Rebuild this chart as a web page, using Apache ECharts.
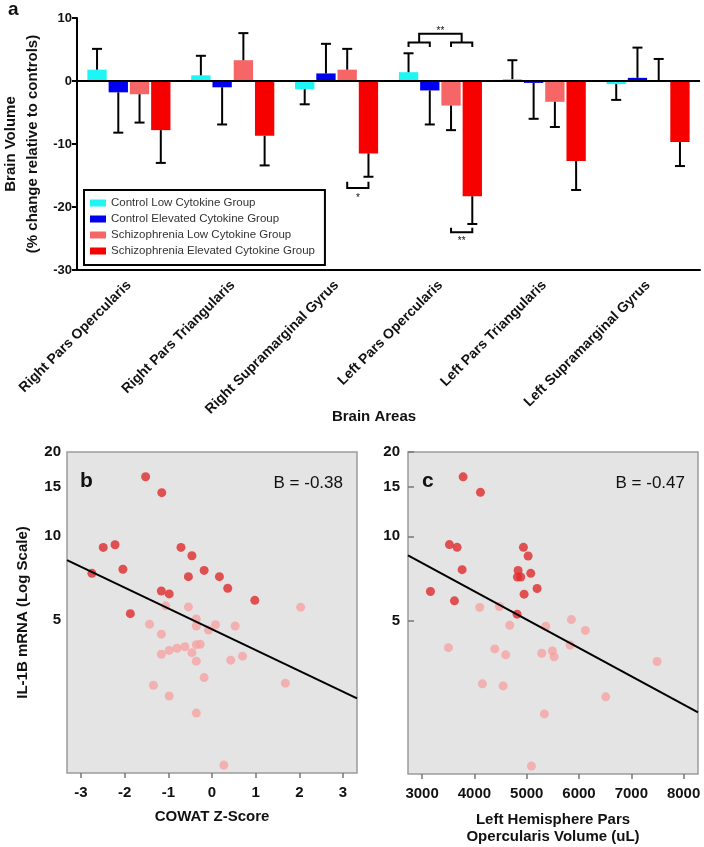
<!DOCTYPE html>
<html><head><meta charset="utf-8">
<script src="https://cdn.jsdelivr.net/npm/echarts@6/dist/echarts.min.js"></script>
<style>html,body{margin:0;padding:0;background:#fff}#c{width:704px;height:847px}</style>
</head><body><div id="c"></div>
<script>
const FONT = '"Liberation Sans", Arial, Helvetica, sans-serif';

// ---- Panel a ----
const brainAreas = ['Right Pars Opercularis','Right Pars Triangularis','Right Supramarginal Gyrus','Left Pars Opercularis','Left Pars Triangularis','Left Supramarginal Gyrus'];
const groupNames = ['Control Low Cytokine Group','Control Elevated Cytokine Group','Schizophrenia Low Cytokine Group','Schizophrenia Elevated Cytokine Group'];
const groupColors = ['#1ff5f5','#0000f0','#f76666','#f70000'];
const controlLow = [1.8, 0.9, -1.3, 1.4, 0.3, -0.5];
const controlLowErr = [3.3, 3.1, 2.4, 3.0, 3.0, 2.5];
const controlElevated = [-1.8, -1.0, 1.2, -1.5, -0.3, 0.5];
const controlElevatedErr = [6.4, 5.9, 4.7, 5.4, 5.7, 4.8];
const schizLow = [-2.1, 3.3, 1.8, -3.9, -3.3, 0.1];
const schizLowErr = [4.5, 4.3, 3.3, 3.9, 4.0, 3.4];
const schizElevated = [-7.8, -8.7, -11.5, -18.3, -12.7, -9.7];
const schizElevatedErr = [5.2, 4.7, 3.7, 4.4, 4.6, 3.8];
// significance brackets: [category, from bar, to bar, bracket value, leg end value, star value, stars]
const significance = [
  [2, 2, 3, -17.0, -16.0, -18.1, '*'],
  [3, 2, 3, -24.0, -23.3, -24.9, '**'],
  [3, 0, 1, 6.1, 5.4, null, ''],
  [3, 2, 3, 6.1, 5.4, null, ''],
  [3, 0.5, 2.5, 7.5, 6.2, 8.3, '**']
];

// ---- Panel b ----
const cowatTicks = [-3, -2, -1, 0, 1, 2, 3];
const il1bTicks = [5, 10, 15, 20];
const bElevated = [[-1.52,16.3],[-1.15,14.3],[-2.49,9.1],[-2.22,9.3],[-0.71,9.1],[-0.46,8.5],[-2.04,7.6],[-2.75,7.35],[-0.18,7.53],[-0.54,7.15],[0.17,7.15],[0.36,6.5],[-1.16,6.35],[-0.98,6.2],[0.98,5.88],[-1.87,5.27]];
const bLow = [[-1.06,5.62],[-0.54,5.57],[2.03,5.56],[-1.43,4.83],[-0.36,5.04],[-0.36,4.76],[0.08,4.81],[0.53,4.76],[-0.08,4.60],[-1.16,4.45],[-0.36,4.08],[-0.27,4.09],[-0.62,4.01],[-0.80,3.96],[-0.98,3.89],[-1.16,3.77],[-0.46,3.82],[-0.36,3.56],[0.70,3.71],[0.43,3.59],[-0.18,3.11],[-1.34,2.92],[1.68,2.97],[-0.98,2.67],[-0.36,2.32],[0.27,1.51]];
const bFit = [[-3.32, 8.2],[3.32, 2.62]];

// ---- Panel c ----
const volumeTicks = [3000, 4000, 5000, 6000, 7000, 8000];
const cElevated = [[3784,16.3],[4115,14.35],[3522,9.34],[3669,9.13],[4937,9.13],[5027,8.5],[3765,7.6],[4835,7.55],[5077,7.37],[4822,7.15],[4886,7.15],[5199,6.51],[3159,6.35],[4950,6.21],[3618,5.88],[4816,5.27]];
const cLow = [[4101,5.57],[4478,5.61],[4675,4.81],[5364,4.77],[5855,5.04],[6122,4.61],[3503,4.0],[4389,3.96],[4599,3.77],[5287,3.82],[5491,3.89],[5524,3.71],[5830,4.09],[7493,3.57],[4153,2.97],[4549,2.92],[6511,2.67],[5338,2.32],[5090,1.51]];
const cFit = [[2730, 8.55],[8275, 2.35]];

const DARK = '#de2a2c', LIGHT = '#f6a2a3';

const groupValues = [controlLow, controlElevated, schizLow, schizElevated];
const groupErrs = [controlLowErr, controlElevatedErr, schizLowErr, schizElevatedErr];

function barOffset(band, k) {
  const w = band * 0.8 / 4.3;
  return -band * 0.4 + k * w * 1.1 + w / 2;
}

const errData = [];
groupValues.forEach((vals, k) => {
  vals.forEach((v, i) => {
    const e = groupErrs[k][i];
    const end = v >= 0 ? v + e : v - e;
    errData.push([i, k, v, end]);
  });
});

const bold = {fontFamily: FONT, fontWeight: 'bold', color: '#111'};

const barSeries = groupNames.map((name, k) => ({
  name, type: 'bar', xAxisIndex: 0, yAxisIndex: 0,
  data: groupValues[k], barGap: '10%', barCategoryGap: '20%',
  itemStyle: {color: groupColors[k]},
  markLine: k === 0 ? {silent: true, symbol: ['none','none'], label: {show: false},
    lineStyle: {color: '#000', width: 2, type: 'solid'}, data: [{yAxis: 0}], z: 5} : undefined
}));

const option = {
  animation: false,
  textStyle: {fontFamily: FONT},
  title: [
    {text: 'a', left: 3, top: -5, textStyle: {fontSize: 19, fontWeight: 'bold', color: '#111', fontFamily: FONT}},
    {text: 'b', left: 75, top: 466, textStyle: {fontSize: 21, fontWeight: 'bold', color: '#111', fontFamily: FONT}},
    {text: 'B = -0.38', right: 356, top: 470, textStyle: {fontSize: 17, fontWeight: 'normal', color: '#111', fontFamily: FONT}},
    {text: 'c', left: 417, top: 466, textStyle: {fontSize: 21, fontWeight: 'bold', color: '#111', fontFamily: FONT}},
    {text: 'B = -0.47', right: 14, top: 470, textStyle: {fontSize: 17, fontWeight: 'normal', color: '#111', fontFamily: FONT}}
  ],
  legend: {
    data: groupNames, orient: 'vertical', left: 84, top: 190,
    itemWidth: 16, itemHeight: 7, itemGap: 2, icon: 'rect',
    padding: [6, 10, 7, 6], borderColor: '#000', borderWidth: 2, backgroundColor: '#fff',
    textStyle: {fontSize: 11.5, color: '#333', fontFamily: FONT, lineHeight: 14},
    selectedMode: false
  },
  grid: [
    {left: 77, right: 4, top: 18, height: 252, outerBoundsMode: 'none', containLabel: false},
    {left: 67, top: 452, width: 290, height: 321, show: true, backgroundColor: '#e4e4e4', borderColor: '#9c9c9c', borderWidth: 1.5, outerBoundsMode: 'none', containLabel: false},
    {left: 408, top: 452, width: 290, height: 322, show: true, backgroundColor: '#e4e4e4', borderColor: '#9c9c9c', borderWidth: 1.5, outerBoundsMode: 'none', containLabel: false}
  ],
  xAxis: [
    {type: 'category', gridIndex: 0, data: brainAreas,
      axisLine: {onZero: false, lineStyle: {color: '#000', width: 2}},
      axisTick: {alignWithLabel: true, length: 5, lineStyle: {color: '#000', width: 2}},
      axisLabel: Object.assign({rotate: 45, fontSize: 14, margin: 13, interval: 0}, bold),
      splitLine: {show: false},
      name: 'Brain Areas', nameLocation: 'middle', nameGap: 139, nameMoveOverlap: false,
      nameTextStyle: Object.assign({fontSize: 15, padding: [0, 29, 0, 0]}, bold)},
    {type: 'value', gridIndex: 1, min: -3.32, max: 3.32,
      axisLine: {show: false}, splitLine: {show: false},
      axisTick: {show: true, length: 5, customValues: cowatTicks, lineStyle: {color: '#777', width: 1.5}},
      axisLabel: Object.assign({fontSize: 15, margin: 12, customValues: cowatTicks}, bold),
      name: 'COWAT Z-Score', nameLocation: 'middle', nameGap: 36, nameMoveOverlap: false,
      nameTextStyle: Object.assign({fontSize: 15}, bold)},
    {type: 'value', gridIndex: 2, min: 2730, max: 8275,
      axisLine: {show: false}, splitLine: {show: false},
      axisTick: {show: true, length: 5, customValues: volumeTicks, lineStyle: {color: '#777', width: 1.5}},
      axisLabel: Object.assign({fontSize: 15, margin: 12, customValues: volumeTicks, formatter: v => String(v)}, bold),
      name: 'Left Hemisphere Pars\nOpercularis Volume (uL)', nameLocation: 'middle', nameGap: 37, nameMoveOverlap: false,
      nameTextStyle: Object.assign({fontSize: 15, lineHeight: 17}, bold)}
  ],
  yAxis: [
    {type: 'value', gridIndex: 0, min: -30, max: 10, interval: 10,
      axisLine: {show: true, lineStyle: {color: '#000', width: 2}},
      axisTick: {show: true, length: 5, lineStyle: {color: '#000', width: 2}},
      axisLabel: Object.assign({fontSize: 13, margin: 5}, bold),
      splitLine: {show: false},
      name: 'Brain Volume\n(% change relative to controls)', nameLocation: 'middle', nameGap: 33, nameRotate: 90, nameMoveOverlap: false,
      nameTextStyle: Object.assign({fontSize: 15, lineHeight: 22}, bold)},
    {type: 'log', gridIndex: 1, min: 1.415, max: 20, logBase: 10,
      axisLine: {show: false}, splitLine: {show: false},
      axisTick: {show: false, customValues: il1bTicks},
      axisLabel: Object.assign({fontSize: 15, margin: 6, customValues: il1bTicks}, bold),
      name: 'IL-1B mRNA (Log Scale)', nameLocation: 'middle', nameGap: 37, nameRotate: 90, nameMoveOverlap: false,
      nameTextStyle: Object.assign({fontSize: 15}, bold)},
    {type: 'log', gridIndex: 2, min: 1.415, max: 20, logBase: 10,
      axisLine: {show: false}, splitLine: {show: false},
      axisTick: {show: true, inside: true, length: 6, customValues: il1bTicks, lineStyle: {color: '#777', width: 1.5}},
      axisLabel: Object.assign({fontSize: 15, margin: 8, customValues: il1bTicks}, bold)}
  ],
  series: [
    ...barSeries,
    {type: 'custom', xAxisIndex: 0, yAxisIndex: 0, data: errData, encode: {x: 0, y: 2}, z: 4, silent: true,
      renderItem(params, api) {
        const cat = api.value(0), k = api.value(1), v = api.value(2), e = api.value(3);
        const band = api.size([1, 0])[0];
        const off = barOffset(band, k);
        const p0 = api.coord([cat, v]), p1 = api.coord([cat, e]);
        const x = p0[0] + off;
        return {type: 'group', children: [
          {type: 'line', shape: {x1: x, y1: p0[1], x2: x, y2: p1[1]}, style: {stroke: '#000', lineWidth: 2}},
          {type: 'line', shape: {x1: x - 5, y1: p1[1], x2: x + 5, y2: p1[1]}, style: {stroke: '#000', lineWidth: 2}}
        ]};
      }},
    {type: 'custom', xAxisIndex: 0, yAxisIndex: 0, data: significance.map(s => [s[0], s[1], s[2], s[3], s[4], s[5] == null ? s[3] : s[5]]),
      encode: {x: 0, y: 3}, z: 4, silent: true,
      renderItem(params, api) {
        const s = significance[params.dataIndex];
        const cat = api.value(0), kf = api.value(1), kt = api.value(2), lv = api.value(3), gv = api.value(4);
        const band = api.size([1, 0])[0];
        const base = api.coord([cat, lv]);
        const leg = api.coord([cat, gv]);
        const x1 = base[0] + barOffset(band, kf), x2 = base[0] + barOffset(band, kt);
        const children = [
          {type: 'polyline', shape: {points: [[x1, leg[1]], [x1, base[1]], [x2, base[1]], [x2, leg[1]]]}, style: {stroke: '#000', lineWidth: 2, fill: null}}
        ];
        if (s[5] != null) {
          const sp = api.coord([cat, s[5]]);
          children.push({type: 'text', x: (x1 + x2) / 2, y: sp[1] + 3,
            style: {text: s[6], fontSize: 10, fontFamily: FONT, fill: '#111', align: 'center', verticalAlign: 'middle'}});
        }
        return {type: 'group', children};
      }},
    {name: 'b low', type: 'scatter', xAxisIndex: 1, yAxisIndex: 1, data: bLow, symbolSize: 9, itemStyle: {color: LIGHT}, z: 3},
    {name: 'b elevated', type: 'scatter', xAxisIndex: 1, yAxisIndex: 1, data: bElevated, symbolSize: 9, itemStyle: {color: DARK}, z: 4},
    {name: 'b fit', type: 'line', xAxisIndex: 1, yAxisIndex: 1, data: bFit, symbol: 'none', lineStyle: {color: '#000', width: 2}, z: 5, silent: true},
    {name: 'c low', type: 'scatter', xAxisIndex: 2, yAxisIndex: 2, data: cLow, symbolSize: 9, itemStyle: {color: LIGHT}, z: 3},
    {name: 'c elevated', type: 'scatter', xAxisIndex: 2, yAxisIndex: 2, data: cElevated, symbolSize: 9, itemStyle: {color: DARK}, z: 4},
    {name: 'c fit', type: 'line', xAxisIndex: 2, yAxisIndex: 2, data: cFit, symbol: 'none', lineStyle: {color: '#000', width: 2}, z: 5, silent: true}
  ]
};

const chart = echarts.init(document.getElementById('c'));
chart.setOption(option);
</script>
</body></html>
